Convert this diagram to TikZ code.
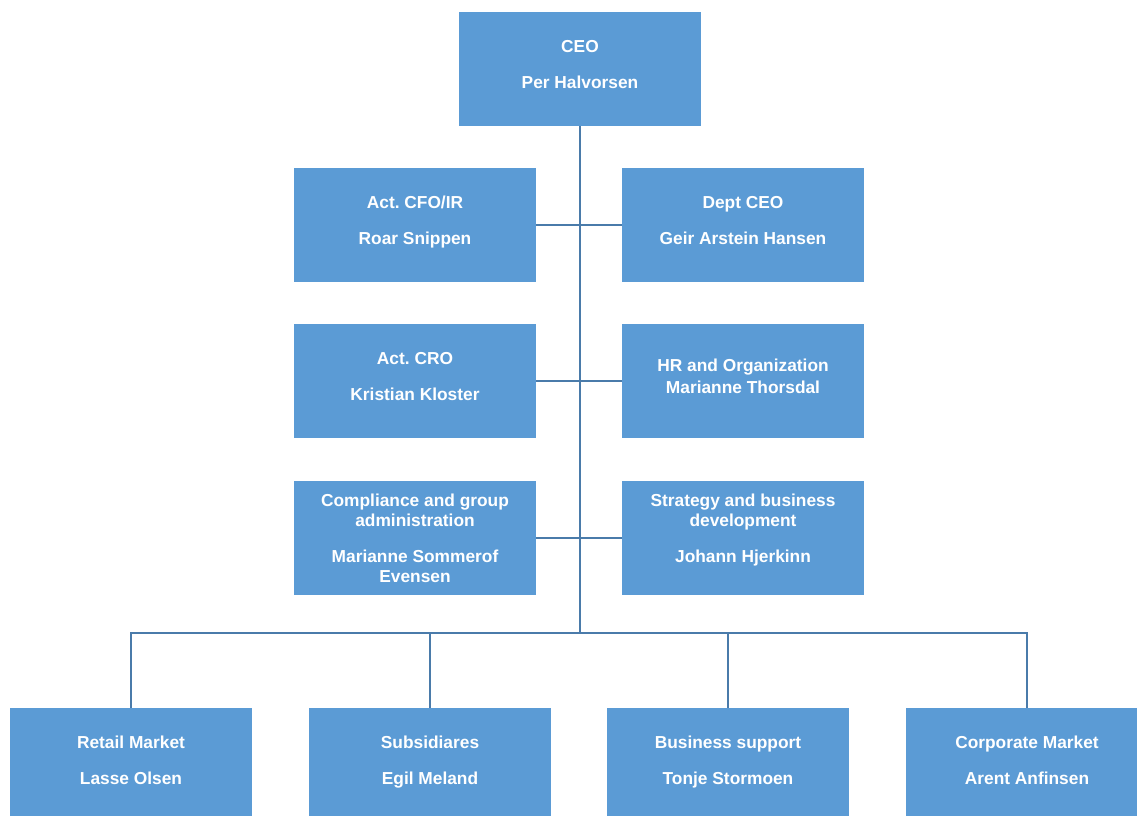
\documentclass[tikz,border=0pt]{standalone}
\usepackage{fontspec}
\setmainfont{Liberation Sans}
\usepackage{xcolor}
\usepackage{tikz}
\usetikzlibrary{positioning, calc}
\frenchspacing

\definecolor{boxblue}{HTML}{5B9BD5}
\definecolor{linkblue}{HTML}{4A7BAA}

\newcommand{\headstrut}{\rule{0pt}{10.5pt}}
\newcommand{\footstrut}{\rule[-6.7pt]{0pt}{6.7pt}}
\newcommand{\longstrut}{\rule{0pt}{9.8pt}}

\tikzset{
	unitbox/.style={rectangle, fill=boxblue, text=white, align=center,
		minimum width=181.5pt, minimum height=85.5pt, inner sep=0pt,
		font=\fontsize{13}{15}\selectfont\bfseries},
	unit/.style={unitbox, execute at begin node=\headstrut, execute at end node=\footstrut},
	unitlong/.style={unitbox, execute at begin node=\longstrut},
	link/.style={draw=linkblue, line width=1.1pt}
}

\begin{document}
\begin{tikzpicture}[x=0.75pt, y=-0.75pt]
			\clip (0, 0) rectangle (1137, 816);
			\useasboundingbox (0, 0) rectangle (1137, 816);
			
			\node[unit] (ceo)     at (580, 69)    {CEO\\[12pt]Per Halvorsen};
			\node[unit] (cfo)     at (415, 225)   {Act. CFO/IR\\[12pt]Roar Snippen};
			\node[unit] (dceo)    at (743, 225)   {Dept CEO\\[12pt]Geir Arstein Hansen};
			\node[unit] (cro)     at (415, 381)   {Act. CRO\\[12pt]Kristian Kloster};
			\node[unit] (hr)      at (743, 381)   {HR and Organization\\[1.5pt]Marianne Thorsdal};
			\node[unitlong] (comp)  at (415, 538) {Compliance and group\\administration\\[12pt]Marianne Sommerof\\Evensen};
			\node[unitlong] (strat) at (743, 538) {Strategy and business\\development\\[12pt]Johann Hjerkinn\\\mbox{}};
			\node[unit] (retail)  at (131, 765)   {Retail Market\\[12pt]Lasse Olsen};
			\node[unit] (subs)    at (430, 765)   {Subsidiares\\[12pt]Egil Meland};
			\node[unit] (support) at (728, 765)   {Business support\\[12pt]Tonje Stormoen};
			\node[unit] (corp)    at (1027, 765)  {Corporate Market\\[12pt]Arent Anfinsen};
			\coordinate (hub) at (580, 633);
			
			\draw[link] (ceo) -- (hub);
			\draw[link] (cfo) -- (dceo);
			\draw[link] (cro) -- (hr);
			\draw[link] (comp) -- (strat);
			\draw[link] (retail.north) |- (hub) -| (corp.north);
			\draw[link] (subs.north) -- (subs.north |- hub);
			\draw[link] (support.north) -- (support.north |- hub);
		\end{tikzpicture}
\end{document}
